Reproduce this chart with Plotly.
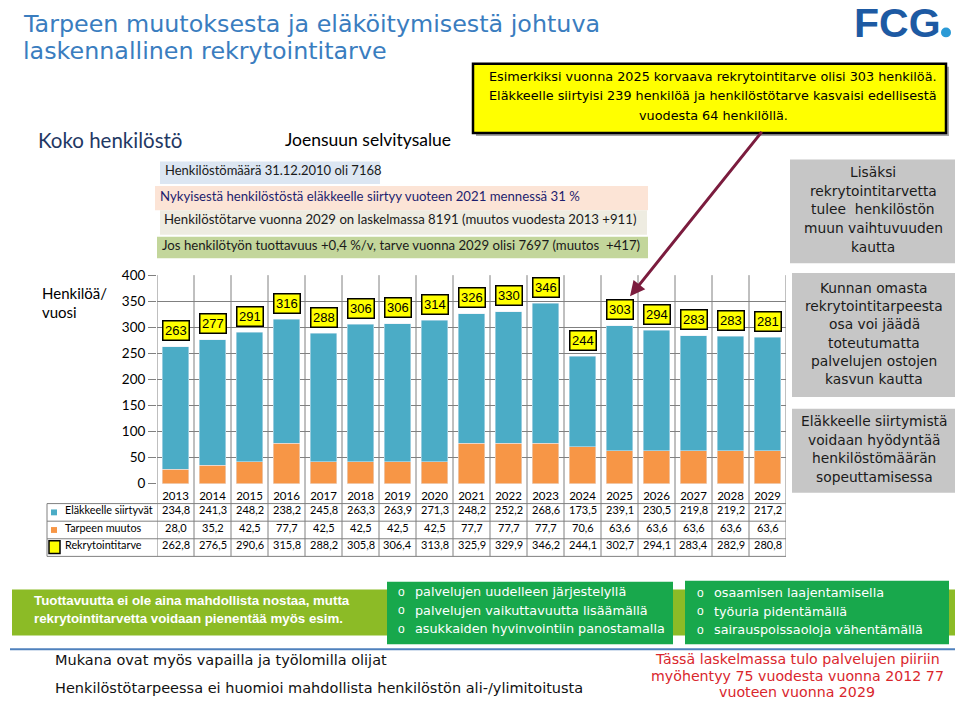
import plotly.graph_objects as go

# ---------------- data ----------------
years = [str(y) for y in range(2013, 2030)]
elakkeelle_siirtyvat = [234.8, 241.3, 248.2, 238.2, 245.8, 263.3, 263.9, 271.3, 248.2,
                        252.2, 268.6, 173.5, 239.1, 230.5, 219.8, 219.2, 217.2]
tarpeen_muutos = [28.0, 35.2, 42.5, 77.7, 42.5, 42.5, 42.5, 42.5, 77.7,
                  77.7, 77.7, 70.6, 63.6, 63.6, 63.6, 63.6, 63.6]
rekrytointitarve = [262.8, 276.5, 290.6, 315.8, 288.2, 305.8, 306.4, 313.8, 325.9,
                    329.9, 346.2, 244.1, 302.7, 294.1, 283.4, 282.9, 280.8]
bar_labels = [263, 277, 291, 316, 288, 306, 306, 314, 326, 330, 346, 244, 303, 294, 283, 283, 281]
y_ticks = [0, 50, 100, 150, 200, 250, 300, 350, 400]
row_names = ["Eläkkeelle siirtyvät", "Tarpeen muutos", "Rekrytointitarve"]

W, H = 960, 711
ARIAL = "Liberation Sans"
WIDE = "DejaVu Sans"
CALI = "Lato"
BLUE = "#4bacc6"
ORANGE = "#f79646"
GRID = "#808080"


def X(px):
    return px / W


def Y(py):
    return 1 - py / H


def fmt(v):
    return f"{v:.1f}".replace(".", ",")


fig = go.Figure()
fig.add_trace(go.Bar(x=years, y=tarpeen_muutos, name=row_names[1], marker_color=ORANGE,
                     width=0.72, hoverinfo="skip"))
fig.add_trace(go.Bar(x=years, y=elakkeelle_siirtyvat, name=row_names[0], marker_color=BLUE,
                     width=0.72, hoverinfo="skip"))

shapes = []
ann = []
DY = -3  # visual correction of annotation vertical centre


def rect(x0, y0, x1, y1, fill, line_color=None, lw=0, layer="below"):
    shapes.append(dict(type="rect", xref="paper", yref="paper", x0=X(x0), x1=X(x1),
                       y0=Y(y1), y1=Y(y0), fillcolor=fill, layer=layer,
                       line=dict(color=line_color or fill, width=lw)))


def hline(x0, x1, y, color=GRID, w=1, layer="below"):
    shapes.append(dict(type="line", xref="paper", yref="paper", x0=X(x0), x1=X(x1),
                       y0=Y(y), y1=Y(y), line=dict(color=color, width=w), layer=layer))


def text(s, x, y, size, color="#000", family=ARIAL, xanchor="left", weight=None):
    f = dict(size=size, color=color, family=family)
    if weight:
        f["weight"] = weight
    ann.append(dict(text=s, x=X(x), y=Y(y + DY), xref="paper", yref="paper", showarrow=False,
                    xanchor=xanchor, yanchor="middle", font=f, align=xanchor))


def lines(ls, x, y0, dy, size, color="#000", family=ARIAL, xanchor="center", weight=None):
    for i, s in enumerate(ls):
        text(s, x, y0 + i * dy, size, color, family, xanchor, weight)


# ---------- title & logo ----------
text("Tarpeen muutoksesta ja eläköitymisestä johtuva", 21, 19, 23.8, "#3a7dbf", WIDE)
text("laskennallinen rekrytointitarve", 21, 47, 23.8, "#3a7dbf", WIDE)
text("FCG", 852, 18, 41, "#1d5aa3", ARIAL, weight="bold")
shapes.append(dict(type="circle", xref="paper", yref="paper", x0=X(941), x1=X(951),
                   y0=Y(30), y1=Y(20), fillcolor="#2b9ad6", line=dict(width=0)))

# ---------- yellow note ----------
rect(476, 60, 949, 131, "#a6a6a6")
rect(473, 57, 946, 128, "#ffff00", "#000000", 2.5, layer="above")
lines(["Esimerkiksi vuonna 2025 korvaava rekrytointitarve olisi 303 henkilöä.",
       "Eläkkeelle siirtyisi 239 henkilöä ja henkilöstötarve kasvaisi edellisestä",
       "vuodesta 64 henkilöllä."], 713, 73, 20, 12.8, "#000", WIDE)

text("Koko henkilöstö", 36, 138, 20.5, "#1f3864", CALI)
text("Joensuun selvitysalue", 283, 138, 17.5, "#000", CALI)

# ---------- info strips ----------
rect(160, 157, 380, 180, "#dce6f2")
text("Henkilöstömäärä 31.12.2010 oli 7168", 163, 169, 13, "#1a1a1a", CALI)
rect(155, 182, 648, 207, "#fce4d6")
text("Nykyisestä henkilöstöstä eläkkeelle siirtyy vuoteen 2021 mennessä 31 %", 158, 195, 13.2,
     "#1e1e6e", CALI)
rect(160, 207, 647, 232, "#eeece1")
text("Henkilöstötarve vuonna 2029 on laskelmassa 8191 (muutos vuodesta 2013 +911)", 162, 219, 13.2,
     "#1a1a1a", CALI)
rect(157, 234, 648, 256, "#c3d69b")
text("Jos henkilötyön tuottavuus +0,4 %/v, tarve vuonna 2029 olisi 7697 (muutos  +417)", 160, 245,
     13.2, "#1a1a1a", CALI)

# ---------- right grey boxes ----------
GREY = "#c6c6c6"
rect(790, 155, 955, 261, GREY)
lines(["Lisäksi", "rekrytointitarvetta", "tulee  henkilöstön", "muun vaihtuvuuden", "kautta"],
      873, 171, 19, 13.8, "#1a1a1a", WIDE)
rect(792, 271, 955, 398, GREY)
lines(["Kunnan omasta", "rekrytointitarpeesta", "osa voi jäädä", "toteutumatta",
       "palvelujen ostojen", "kasvun kautta"], 874, 289, 18.8, 13.8, "#1a1a1a", WIDE)
rect(792, 410, 955, 496, GREY)
lines(["Eläkkeelle siirtymistä", "voidaan hyödyntää", "henkilöstömäärän", "sopeuttamisessa"],
      874, 426, 18.8, 13.8, "#1a1a1a", WIDE)

# ---------- y axis title ----------
lines(["Henkilöä/", "vuosi"], 40, 295, 19, 15, "#000", CALI, xanchor="left")

# ---------- gridlines (vertical) and table ----------
TOP, AX0 = 273.3, 486.7
TBL = [507, 525, 543, 561]
for i in range(len(years) + 1):
    shapes.append(dict(type="line", xref="x", yref="paper", x0=i - 0.5, x1=i - 0.5,
                       y0=Y(561), y1=Y(TOP), line=dict(color=GRID, width=1), layer="below"))
for yy in TBL:
    hline(47, 786, yy)
shapes.append(dict(type="line", xref="paper", yref="paper", x0=X(47), x1=X(47), y0=Y(561),
                   y1=Y(507), line=dict(color=GRID, width=1)))
row_centers = [516, 534, 552]
series_rows = [elakkeelle_siirtyvat, tarpeen_muutos, rekrytointitarve]
for r, (name, vals) in enumerate(zip(row_names, series_rows)):
    yc = row_centers[r]
    text(name, 63, yc, 10.8, "#000", CALI)
    for i, v in enumerate(vals):
        ann.append(dict(text=fmt(v), x=i, xref="x", y=Y(yc + DY), yref="paper", showarrow=False,
                        xanchor="center", yanchor="middle",
                        font=dict(size=11, color="#000", family=CALI)))
rect(51, 513, 57, 519, BLUE, layer="above")
rect(51, 531, 57, 537, ORANGE, layer="above")
rect(49, 545, 60, 558, "#ffff00", "#000", 1.5, layer="above")

# ---------- bar labels ----------
for i, (tot, lab) in enumerate(zip(rekrytointitarve, bar_labels)):
    ann.append(dict(text=str(lab), x=i, y=tot, xref="x", yref="y", showarrow=False,
                    yshift=16, xanchor="center", yanchor="middle", bgcolor="#ffff00",
                    bordercolor="#000", borderwidth=1.5, borderpad=1.5,
                    font=dict(size=13, color="#000", family=ARIAL)))

# ---------- arrow ----------
ann.append(dict(x=X(630), y=Y(295), xref="paper", yref="paper", ax=133, ay=-166,
                axref="pixel", ayref="pixel", showarrow=True, arrowhead=2, arrowsize=1,
                arrowwidth=3, arrowcolor="#7b1c3e", text=""))

# ---------- bottom green boxes ----------
rect(12, 595, 955, 642, "#8cbb26")
rect(387, 587, 673, 651, "#18a84c")
rect(685, 586, 949, 651, "#18a84c")
lines(["Tuottavuutta ei ole aina mahdollista nostaa, mutta",
       "rekrytointitarvetta voidaan pienentää myös esim."], 32, 609, 19, 13.3, "#ffffff",
      ARIAL, xanchor="left", weight="bold")
for i, s in enumerate(["palvelujen uudelleen järjestelyllä", "palvelujen vaikuttavuutta lisäämällä",
                       "asukkaiden hyvinvointiin panostamalla"]):
    text("o", 396, 600 + i * 19, 12, "#ffffff")
    text(s, 413, 600 + i * 19, 12.8, "#ffffff", WIDE)
for i, s in enumerate(["osaamisen laajentamisella", "työuria pidentämällä",
                       "sairauspoissaoloja vähentämällä"]):
    text("o", 695, 601 + i * 19, 12, "#ffffff")
    text(s, 712, 601 + i * 19, 12.8, "#ffffff", WIDE)
hline(10, 955, 656, "#4f81bd", 2, layer="above")

text("Mukana ovat myös vapailla ja työlomilla olijat", 53, 670, 14.5, "#111", WIDE)
text("Henkilöstötarpeessa ei huomioi mahdollista henkilöstön ali-/ylimitoitusta", 53, 699, 14.5,
     "#111", WIDE)
lines(["Tässä laskelmassa tulo palvelujen piiriin", "myöhentyy 75 vuodesta vuonna 2012 77",
       "vuoteen vuonna 2029"], 797, 669, 17, 14.2, "#d9262c", WIDE)

fig.update_layout(
    width=W, height=H, margin=dict(l=0, r=0, t=0, b=0),
    paper_bgcolor="white", plot_bgcolor="white",
    barmode="stack", showlegend=False, bargap=0.28,
    shapes=shapes, annotations=ann,
    xaxis=dict(domain=[X(157), X(786)], type="category", categoryorder="array",
               categoryarray=years, range=[-0.5, len(years) - 0.5], showgrid=False,
               showline=False, ticks="", zeroline=False, ticklabelstandoff=4,
               tickfont=dict(size=11.5, family=CALI, color="#000")),
    yaxis=dict(domain=[Y(AX0), Y(TOP)], range=[0, 400], tickvals=y_ticks, showgrid=True,
               gridcolor=GRID, gridwidth=1, zeroline=False, showline=False, ticks="outside",
               ticklen=8, tickcolor=GRID, tickfont=dict(size=13.5, family=CALI, color="#000")),
)

fig.write_html("out.html")
